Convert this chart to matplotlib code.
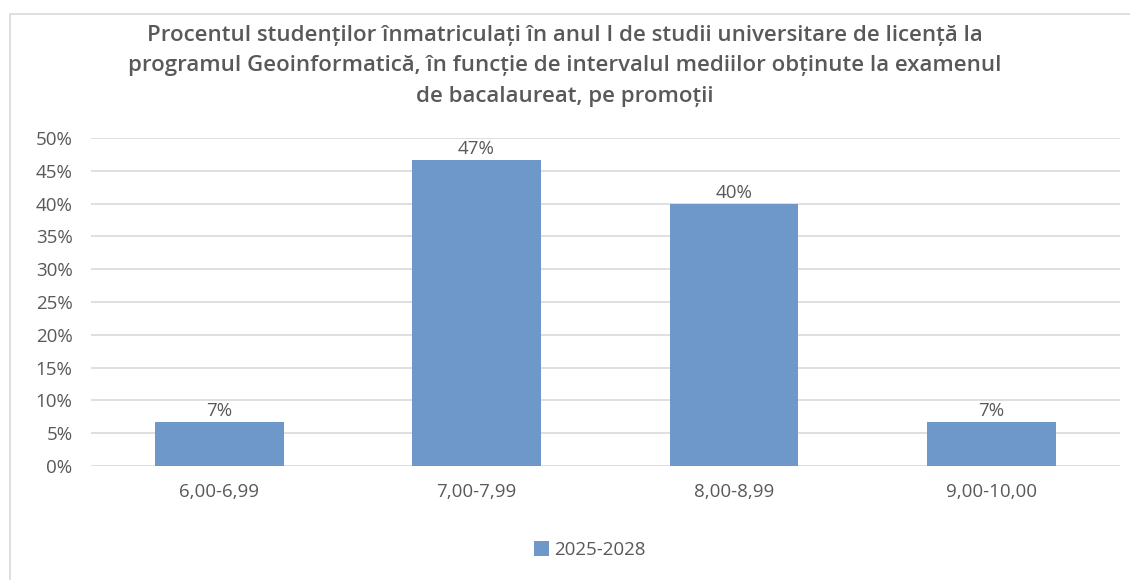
import matplotlib
matplotlib.use("Agg")
import matplotlib.pyplot as plt
from matplotlib.patches import Rectangle
from matplotlib.ticker import PercentFormatter

categories = ["6,00-6,99", "7,00-7,99", "8,00-8,99", "9,00-10,00"]
values = [6.67, 46.67, 40.0, 6.67]
labels = ["7%", "47%", "40%", "7%"]
series_name = "2025-2028"
title = ("Procentul studenților înmatriculați în anul I de studii universitare de licență la\n"
         "programul Geoinformatică, în funcție de intervalul mediilor obținute la examenul\n"
         "de bacalaureat, pe promoții")

FONT = ["Open Sans", "DejaVu Sans"]
plt.rcParams['font.family'] = FONT
TXT = "#595959"
W, H = 1130, 580
fig = plt.figure(figsize=(W / 100, H / 100), dpi=100)

# outer frame
fig.patches.append(Rectangle((10 / W, -0.1), 1.2, (H - 14) / H + 0.1, transform=fig.transFigure,
                             fill=False, edgecolor="#d9d9d9", linewidth=1.2))

left, right = 90.5, 1120
top, bottom = 138, 466
ax = fig.add_axes([left / W, 1 - bottom / H, (right - left) / W, (bottom - top) / H])
x = range(len(categories))
bars = ax.bar(x, values, width=0.5, color="#6f98ca", zorder=3, label=series_name)
for b, lab in zip(bars, labels):
    ax.text(b.get_x() + b.get_width() / 2, b.get_height() + 0.3, lab, ha="center", va="bottom",
            fontsize=13.5, color=TXT)
ax.set_xlim(-0.5, len(categories) - 0.5)
ax.set_ylim(0, 50)
ax.set_yticks(range(0, 51, 5))
ax.yaxis.set_major_formatter(PercentFormatter(decimals=0))
ax.set_xticks(list(x))
ax.set_xticklabels(categories)
ax.tick_params(axis="both", length=0, labelsize=13.5, colors=TXT)
ax.tick_params(axis="y", pad=13)
ax.tick_params(axis="x", pad=12)
ax.grid(axis="y", color="#d9d9d9", linewidth=1.2, zorder=0)
for s in ax.spines.values():
    s.set_visible(False)

fig.text(0.5, 1 - 66 / H, title, ha="center", va="center", fontsize=16, color=TXT,
         fontweight="semibold", linespacing=1.6)

fig.legend(handles=[bars], labels=[series_name], loc="center", bbox_to_anchor=(0.522, 1 - 550 / H),
           frameon=False, fontsize=13.5, labelcolor=TXT, handlelength=0.8, handleheight=0.8,
           handletextpad=0.3)

fig.savefig("out.png", dpi=100, facecolor="white")
